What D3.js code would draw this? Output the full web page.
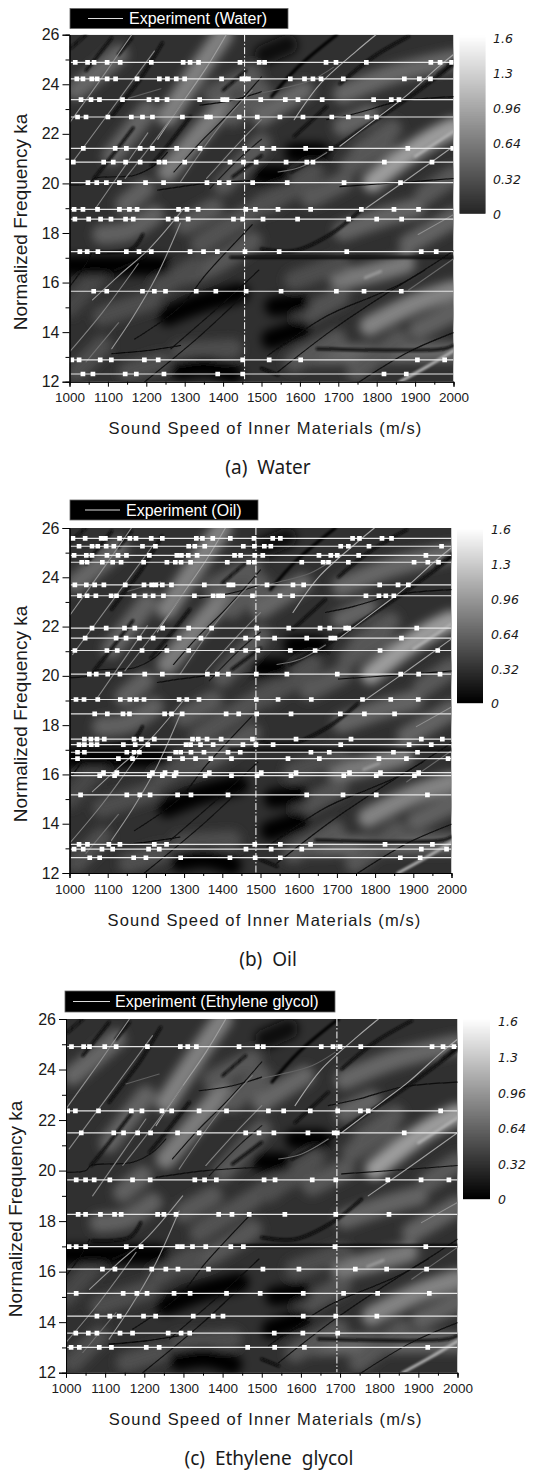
<!DOCTYPE html>
<html>
<head>
<meta charset="utf-8">
<style>
  body { margin: 0; background: #fff; }
  text { font-family: "Liberation Sans", Arial, sans-serif; fill: #1a1a1a; }
  .caption { font-family: "Noto Sans", sans-serif; white-space: pre; }
  .cbar text { font-family: "DejaVu Sans", sans-serif; font-style: italic; }
</style>
</head>
<body>
<svg width="533" height="1470"></svg>
<script src="https://d3js.org/d3.v7.min.js"></script>
<script>
// measured frequencies (ka) and the sound speeds where each marker sits
var waterKa = [24.88, 24.22, 23.38, 22.68, 21.41, 20.86, 20.03, 18.95, 18.56, 17.25, 15.65, 12.88, 12.31];
var waterSpeeds = [
  [1015,1047,1064,1098,1132,1213,1296,1314,1336,1444,1494,1508,1668,1694,1773,1941,1965,1995],
  [1019,1035,1058,1072,1098,1120,1176,1234,1255,1278,1300,1396,1449,1457,1466,1575,1612,1634,1655,1713,1872,1911,1940],
  [1030,1056,1078,1138,1207,1228,1254,1339,1399,1410,1498,1562,1595,1658,1792,1838,1858],
  [1021,1043,1100,1161,1190,1216,1294,1357,1367,1442,1489,1548,1608,1683,1726,1775,1799],
  [1036,1119,1148,1184,1216,1279,1340,1456,1502,1532,1615,1681,1881,1998],
  [1010,1089,1114,1146,1184,1233,1248,1300,1418,1453,1486,1564,1618,1634,1820,1944],
  [1048,1071,1096,1130,1198,1245,1358,1390,1415,1477,1567,1715,1862],
  [1012,1035,1073,1130,1156,1176,1284,1306,1335,1459,1484,1543,1628,1760,1845,1909],
  [1014,1050,1081,1108,1146,1166,1257,1279,1309,1427,1451,1504,1594,1727,1800,1865],
  [1027,1046,1074,1148,1181,1213,1314,1349,1385,1457,1546,1722,1916,1955],
  [1063,1097,1190,1221,1250,1330,1381,1460,1551,1695,1767,1864],
  [1006,1025,1080,1109,1195,1231,1451,1520,1602,1906,1977],
  [1035,1061,1145,1174,1246,1386,1451,1819,1877]
];

var oilKa = [25.58, 25.26, 24.89, 24.61, 23.69, 23.25, 21.94, 21.53, 21.03, 20.07, 19.04, 18.46, 17.43, 17.21, 16.90, 16.64, 16.07, 15.95, 15.17, 13.16, 12.97, 12.62];
var oilSpeeds = [
  [1009,1041,1083,1094,1131,1158,1174,1214,1243,1332,1348,1375,1421,1483,1532,1552,1741,1759,1818,1843],
  [1025,1059,1074,1096,1116,1191,1225,1312,1328,1354,1455,1484,1510,1527,1710,1730,1784,1974],
  [1012,1044,1059,1098,1127,1149,1209,1281,1293,1311,1334,1432,1448,1485,1506,1653,1684,1701,1757,1933],
  [1032,1046,1086,1113,1135,1194,1255,1277,1292,1317,1413,1469,1484,1608,1664,1678,1730,1902,1938,1966],
  [1014,1044,1066,1090,1146,1195,1215,1226,1243,1267,1353,1417,1428,1517,1585,1613,1812,1860,1887],
  [1026,1046,1069,1109,1123,1169,1198,1219,1246,1327,1376,1390,1401,1479,1551,1584,1776,1810,1828,1849],
  [1059,1096,1144,1171,1244,1312,1372,1490,1574,1656,1681,1723,1731,1909],
  [1041,1122,1148,1183,1219,1287,1344,1461,1493,1537,1621,1684,1695,1869],
  [1014,1098,1125,1190,1255,1312,1426,1461,1493,1578,1643,1813,1964],
  [1052,1070,1100,1132,1197,1243,1361,1387,1416,1489,1569,1701,1867,1914,1970],
  [1017,1038,1074,1133,1158,1175,1195,1287,1307,1339,1489,1546,1633,1767,1841,1913],
  [1066,1099,1140,1157,1249,1267,1295,1410,1443,1490,1580,1709,1772,1851],
  [1039,1056,1072,1091,1169,1188,1222,1322,1337,1360,1397,1479,1593,1737,1921,1976],
  [1025,1039,1057,1072,1141,1172,1205,1305,1317,1343,1376,1454,1488,1533,1710,1889,1947],
  [1021,1039,1150,1169,1183,1278,1291,1318,1352,1415,1447,1632,1680,1848,1911],
  [1021,1128,1165,1262,1296,1330,1370,1424,1572,1654,1810,1882,1991],
  [1089,1124,1217,1250,1279,1366,1502,1593,1733,1814,1914],
  [1079,1118,1209,1243,1274,1355,1424,1491,1580,1718,1803,1903],
  [1029,1150,1184,1211,1283,1318,1415,1621,1716,1803,1937],
  [1025,1047,1103,1132,1222,1254,1485,1552,1631,1826,1950],
  [1012,1036,1085,1113,1207,1235,1462,1528,1608,1921,1987],
  [1053,1079,1168,1200,1291,1420,1486,1552,1866,1918]
];

var glycolKa = [24.91, 22.36, 21.49, 19.63, 18.27, 16.99, 16.10, 15.14, 14.24, 13.57, 13.00];
var glycolSpeeds = [
  [1014,1045,1060,1099,1128,1208,1292,1311,1333,1442,1489,1504,1652,1682,1700,1753,1935,1963,1991],
  [1004,1024,1083,1167,1194,1245,1270,1340,1410,1517,1556,1624,1694,1752,1772,1957],
  [1039,1122,1147,1183,1216,1285,1340,1459,1493,1531,1618,1685,1693,1864],
  [1026,1050,1072,1112,1170,1215,1329,1354,1384,1506,1534,1629,1689,1822,1907,1978],
  [1031,1050,1088,1124,1141,1234,1250,1281,1390,1424,1468,1559,1689,1825],
  [1008,1026,1050,1154,1192,1285,1297,1323,1357,1421,1453,1687,1919],
  [1093,1125,1219,1255,1286,1364,1503,1595,1739,1819,1921],
  [1026,1146,1181,1207,1276,1317,1410,1496,1606,1709,1796,1928],
  [1079,1112,1136,1198,1229,1325,1376,1401,1606,1689,1794],
  [1025,1057,1079,1138,1170,1261,1294,1316,1532,1605,1694],
  [1013,1034,1085,1116,1205,1238,1464,1533,1609,1924]
];

// ridges of the computed map: level, then speed/ka pairs
var baseLevel = 0.3;
var broadRidges = [
  [0.8, 1255,22.7, 1340,24.68, 1400,26],
  [0.78, 1255,20.46, 1340,22.04, 1400,23.1],
  [0.64, 1017,23.76, 1068,24.4, 1128,25.2],
  [0.62, 1110,21.1, 1204,22.97],
  [0.6, 1145,19.14, 1196,19.8],
  [0.56, 1400,19.93, 1500,21.64],
  [0.56, 1425,22.7, 1500,23.76],
  [0.54, 1374,23.6, 1476,24.4],
  [0.64, 1712,23.6, 1840,24.4, 2000,25],
  [0.98, 1789,20.06, 1874,21.1, 1942,21.8, 2000,22.25],
  [0.64, 1500,22.7, 1560,23.3, 1610,23.76],
  [0.62, 1712,22.3, 1780,22.8],
  [0.54, 1730,20.72, 1823,21.65],
  [0.56, 1628,19.4, 1713,20.06],
  [0.52, 1500,19.14, 1585,19.8],
  [0.76, 1704,16.1, 1798,16.43, 1875,16.76],
  [0.62, 1713,18.08, 1823,18.67, 1900,19],
  [0.62, 1883,17.55, 2000,18.6],
  [0.82, 1781,14.25, 1900,15.17, 2000,15.7],
  [0.64, 1610,13.06, 1755,13.13, 2000,13.2],
  [0.6, 1085,17.94, 1153,18.08, 1221,18.74],
  [0.48, 1290,13.2, 1425,13.33],
  [0.54, 1281,16.23, 1366,16.63, 1476,17.68],
  [0.48, 1085,14.65, 1213,15.3],
  [0.48, 1238,15.83, 1323,16.63],
  [0.56, 1300,18.34, 1375,19],
  [0.52, 1340,17.55, 1476,18.87],
  [0.44, 1000,15, 1077,16.36],
  [0.5, 1153,12.4, 1238,12.8],
  [0.48, 1017,12.4, 1085,13.46],
  [0.48, 1585,16.1, 1704,16.76],
  [0.52, 1610,14.65, 1704,15.44],
  [0.54, 1585,12.8, 1696,13.72],
  [0.54, 1747,12.4, 1858,13.72],
  [0.6, 1908,14.1, 2000,14.8],
  [0.56, 1925,19.54, 2000,20.33],
  [0.5, 1517,19.14, 1636,20.46],
  [0.54, 1755,21.25, 1840,22.2],
  [0.02, 1000,16.69, 1085,16.69, 1238,16.69],
  [0.02, 1255,14.65, 1340,15.17, 1442,15.57],
  [0.02, 1534,15.04, 1600,15.17],
  [0.02, 1290,12.47, 1357,12.6, 1425,12.33],
  [0.03, 1525,13.72, 1602,14.12],
  [0.03, 1585,21.25, 1653,21.25],
  [0.03, 1500,20.33, 1551,20.33],
  [0.06, 1508,25.2, 1568,25.6]
];
var midRidges = [
  [1.1, 1860,12.0, 1930,12.6, 2000,13.25],
  [1.1, 1900,21.1, 1960,21.7, 2000,22.1],
  [0.95, 1770,16.2, 1810,16.45],
  [0.06, 1110,22.7, 1149,23.5, 1187,24.28, 1242,25.67],
  [0.06, 1064,20.2, 1110,21.1, 1166,22.24],
  [0.06, 1213,20.72, 1255,21.51, 1315,22.7],
  [0.08, 1425,20.26, 1500,21.12],
  [0.08, 1043,24.55, 1110,25.87],
  [0.12, 1004,25.47, 1043,26],
  [0.08, 1128,25.2, 1162,25.87],
  [0.12, 1400,23.76, 1459,24.55],
  [0.04, 1526,23.5, 1594,24.68, 1696,26],
  [0.06, 1704,24.02, 1789,25.08, 1883,25.93],
  [0.06, 1747,22.04, 1874,23.36, 2000,24.8],
  [0.08, 1585,21.9, 1670,23.1],
  [0.08, 1577,20.46, 1696,21.5, 1747,22.04],
  [0.12, 1960,24.4, 2000,24.95],
  [0.05, 1500,17.35, 1585,17.28, 1679,17.94, 1755,18.87],
  [0.05, 1420,17.02, 1700,17.02, 2000,17.02],
  [0.05, 1068,17.22, 1162,17.35, 1191,17.94],
  [0.05, 1119,16.5, 1196,17.02],
  [0.08, 1645,13.33, 1976,13.33, 2000,13.46],
  [0.05, 1500,12.54, 1543,12.27]
];
var fineRidges = [
  [0.08, 1000,19.93, 1051,20, 1064,20.2, 1170,20.33, 1221,20.72, 1255,21.25],
  [0.6, 1153,23.43, 1238,23.82],
  [0.08, 1340,23.16, 1425,23.36, 1500,23.7],
  [0.62, 1500,23.65, 1551,23.82, 1628,24.15, 1687,24.68],
  [0.08, 1230,19.73, 1357,20, 1500,20.13],
  [0.08, 1704,19.87, 1883,20.06, 2000,20.2],
  [0.08, 1670,22.57, 1747,22.83, 1857,23.3, 2000,23.5],
  [0.05, 1110,13.13, 1204,13.26, 1289,13.46],
  [0.08, 1170,13.72, 1289,15.04, 1357,16.36, 1476,18.34],
  [0.08, 1264,13.33, 1400,15.17, 1493,16.5],
  [0.08, 1196,12, 1340,13.85, 1459,15.57],
  [0.08, 1517,13.06, 1670,14.65, 1789,15.44, 1866,15.97, 2000,17.28],
  [0.08, 1543,12.4, 1687,14.12, 1840,15.7, 1925,16.5],
  [0.08, 1755,12, 1883,13.2, 2000,13.98],
  [0.08, 1000,15.83, 1043,16.76, 1060,17.28],
  [0.12, 1272,20.46, 1340,21.65, 1408,22.7, 1500,24.3],
  [0.15, 1366,19.8, 1442,21, 1500,21.78],
  [0.9, 1000,22.44, 1085,24.28, 1162,26],
  [0.85, 1008,20.86, 1102,22.83, 1221,25.34],
  [1.0, 1230,21.78, 1281,22.97, 1357,24.68, 1408,26],
  [0.8, 1145,20.2, 1230,21.9, 1298,23.36],
  [0.78, 1289,20.06, 1391,22.3, 1476,23.76],
  [0.82, 1357,20.2, 1442,21.65, 1500,22.57],
  [0.85, 1068,19, 1145,20.72, 1204,22.04],
  [1.05, 1585,22.57, 1653,24.02, 1747,25.34, 1798,26],
  [1.05, 1704,21.5, 1806,22.7, 1874,23.5, 1959,24.68, 2000,25.2],
  [0.7, 1543,20.46, 1602,20.66, 1670,21.25],
  [1.0, 1772,19, 1883,20.2, 2000,21.5],
  [0.95, 1060,15.3, 1130,16.3, 1210,17.4, 1298,19],
  [0.95, 1110,13.33, 1165,14.6, 1225,16.2, 1289,18.4],
  [0.8, 1000,13.2, 1085,14.78, 1179,16.76],
  [0.7, 1043,12.8, 1128,14.38],
  [0.65, 1883,15.7, 2000,16.96],
  [0.9, 1908,17.94, 2000,18.74]
];

var colorTicks = [0, 0.32, 0.64, 0.96, 1.28, 1.6];
var colorTickLabels = ["0", "0.32", "0.64", "0.96", "1.3", "1.6"];
var speedTicks = d3.range(1000, 2001, 100);
var speedMinor = d3.range(1050, 2000, 100);
var kaTicks = d3.range(12, 27, 2);
var kaMinor = d3.range(13, 26, 2);

var panels = [
  {name: "Water", caption: "(a)  Water", ka: waterKa, speeds: waterSpeeds, ref: 1456,
   x: [69.5, 453.5], y: [381.7, 34.7], bar: [459.5, 36, 26, 177.5], barLabel: [493, 38.5], labelX: 20, labelY: 222, capX: 268,
   box: [70, 8.5, 218, 20], lineBox: [88, 123], textX: 129},
  {name: "Oil", caption: "(b)  Oil", ka: oilKa, speeds: oilSpeeds, ref: 1488,
   x: [69.5, 451.5], y: [873, 528], bar: [457, 529, 26, 174], barLabel: [491, 530], labelX: 20, labelY: 714, capX: 268,
   box: [70, 500, 188, 20], lineBox: [85, 120], textX: 126},
  {name: "Ethylene glycol", caption: "(c)  Ethylene  glycol", ka: glycolKa, speeds: glycolSpeeds, ref: 1692,
   x: [66, 457.5], y: [1372.7, 1019], bar: [463, 1019, 27, 180], barLabel: [498, 1022], labelX: 15, labelY: 1209, capX: 269,
   box: [65, 991, 270, 21], lineBox: [73, 110], textX: 115}
];

var svg = d3.select("svg");
var gray = d3.scaleLinear().domain([0, 1.6]).range(["#000", "#fff"]);
var defs = svg.append("defs");

[["blurBroad", 5], ["blurMid", 1.3], ["blurFine", 0.45]].forEach(function (f) {
  defs.append("filter").attr("id", f[0])
    .attr("filterUnits", "userSpaceOnUse")
    .attr("x", 0).attr("y", 0).attr("width", 533).attr("height", 1470)
    .append("feGaussianBlur").attr("stdDeviation", f[1]);
});

function drawPanel(p, idx) {
  var x = d3.scaleLinear().domain([1000, 2000]).range(p.x);
  var y = d3.scaleLinear().domain([12, 26]).range(p.y);
  var g = svg.append("g");

  defs.append("clipPath").attr("id", "plot" + idx).append("rect")
    .attr("x", p.x[0]).attr("y", p.y[1])
    .attr("width", p.x[1] - p.x[0]).attr("height", p.y[0] - p.y[1]);

  var map = g.append("g").attr("clip-path", "url(#plot" + idx + ")");
  map.append("rect")
    .attr("x", p.x[0]).attr("y", p.y[1])
    .attr("width", p.x[1] - p.x[0]).attr("height", p.y[0] - p.y[1])
    .attr("fill", gray(baseLevel));

  var ridgeLine = d3.line().curve(d3.curveCatmullRom.alpha(0.5))
    .x(function (d) { return x(d[0]); })
    .y(function (d) { return y(d[1]); });

  function toPoints(r) {
    var pts = [];
    for (var i = 1; i < r.length; i += 2) pts.push([r[i], r[i + 1]]);
    return pts;
  }

  function ridgeLayer(rows, filter, width) {
    map.append("g").attr("filter", "url(#" + filter + ")")
      .selectAll("path").data(rows).enter().append("path")
      .attr("d", function (r) { return ridgeLine(toPoints(r)); })
      .attr("fill", "none")
      .attr("stroke", function (r) { return gray(r[0]); })
      .attr("stroke-linecap", "round")
      .attr("stroke-width", width);
  }
  ridgeLayer(broadRidges, "blurBroad", 20);
  ridgeLayer(midRidges, "blurMid", 3);
  ridgeLayer(fineRidges, "blurFine", 1.1);

  // experiment lines and markers
  var exp = map.append("g");
  p.ka.forEach(function (k, i) {
    exp.append("line")
      .attr("x1", x(1003)).attr("x2", x(2000))
      .attr("y1", y(k)).attr("y2", y(k))
      .attr("stroke", "#e4e4e4").attr("stroke-width", 1.2);
    exp.selectAll(null).data(p.speeds[i]).enter().append("path")
      .attr("d", d3.symbol().type(d3.symbolSquare).size(22))
      .attr("transform", function (s) { return "translate(" + x(s) + "," + y(k) + ")"; })
      .attr("fill", "#fff");
  });

  g.append("line")
    .attr("x1", x(p.ref)).attr("x2", x(p.ref))
    .attr("y1", p.y[1]).attr("y2", p.y[0])
    .attr("stroke", "#fff").attr("stroke-width", 1)
    .attr("stroke-dasharray", "7,2,1.5,2");

  // axes
  var xAxis = g.append("g").attr("transform", "translate(0," + p.y[0] + ")")
    .call(d3.axisBottom(x).tickValues(speedTicks).tickFormat(d3.format("d")).tickSize(5).tickPadding(6));
  g.append("g").attr("transform", "translate(0," + p.y[0] + ")")
    .call(d3.axisBottom(x).tickValues(speedMinor).tickFormat("").tickSize(3));
  var yAxis = g.append("g").attr("transform", "translate(" + p.x[0] + ",0)")
    .call(d3.axisLeft(y).tickValues(kaTicks).tickSize(7).tickPadding(3));
  g.append("g").attr("transform", "translate(" + p.x[0] + ",0)")
    .call(d3.axisLeft(y).tickValues(kaMinor).tickFormat("").tickSize(4));
  xAxis.selectAll("text").style("font-size", "13.5px").style("font-family", "Liberation Sans");
  yAxis.selectAll("text").style("font-size", "16px").style("font-family", "Liberation Sans");

  g.append("text").attr("x", (p.x[0] + p.x[1]) / 2 + 4).attr("y", p.y[0] + 47)
    .attr("dy", "0.35em").attr("text-anchor", "middle")
    .style("font-size", "16.5px").style("letter-spacing", "1.1px")
    .text("Sound Speed of Inner Materials (m/s)");

  g.append("text")
    .attr("transform", "translate(" + p.labelX + "," + p.labelY + ") rotate(-90)")
    .attr("dy", "0.35em").attr("text-anchor", "middle")
    .style("font-size", "19px")
    .text("Normalized Frequency ka");

  g.append("text").attr("class", "caption")
    .attr("x", p.capX).attr("y", p.y[0] + 86)
    .attr("dy", "0.35em").attr("text-anchor", "middle")
    .style("font-size", "19px")
    .text(p.caption);

  // legend box
  g.append("rect")
    .attr("x", p.box[0]).attr("y", p.box[1])
    .attr("width", p.box[2]).attr("height", p.box[3])
    .attr("fill", "#000").attr("stroke", "#666").attr("stroke-width", 0.8);
  var boxMid = p.box[1] + p.box[3] / 2;
  g.append("line").attr("x1", p.lineBox[0]).attr("x2", p.lineBox[1])
    .attr("y1", boxMid).attr("y2", boxMid)
    .attr("stroke", "#ddd").attr("stroke-width", 1);
  g.append("text").attr("x", p.textX).attr("y", boxMid)
    .attr("dy", "0.35em").style("fill", "#fff").style("font-size", "16px")
    .text("Experiment (" + p.name + ")");

  // colour bar
  var bar = g.append("g").attr("class", "cbar");
  var barY = d3.scaleLinear().domain([0, 1.6]).range([p.bar[1] + p.bar[3], p.bar[1]]);
  bar.selectAll("rect").data(d3.range(0, p.bar[3], 1)).enter().append("rect")
    .attr("x", p.bar[0])
    .attr("y", function (d) { return p.bar[1] + p.bar[3] - d - 1; })
    .attr("width", p.bar[2]).attr("height", 1.2)
    .attr("fill", function (d) { return gray(barY.invert(p.bar[1] + p.bar[3] - d)); });
  var labelY = d3.scaleLinear().domain([0, 1.6]).range([p.bar[1] + p.bar[3] + 1, p.barLabel[1]]);
  bar.selectAll("text").data(colorTicks).enter().append("text")
    .attr("x", p.barLabel[0])
    .attr("y", function (d) { return labelY(d); })
    .attr("dy", "0.35em")
    .style("font-size", "12.5px")
    .text(function (d, i) { return colorTickLabels[i]; });
}

panels.forEach(drawPanel);
</script>
</body>
</html>
